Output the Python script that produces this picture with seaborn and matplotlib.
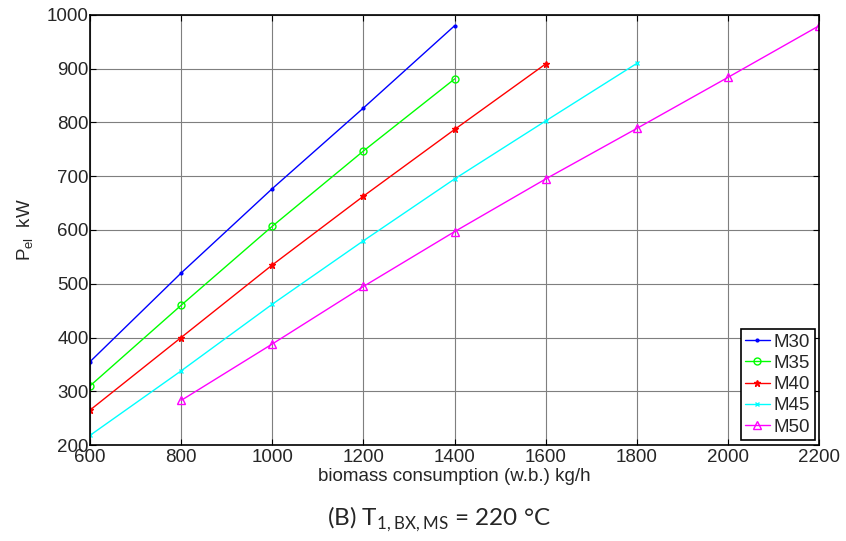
import matplotlib
matplotlib.use("Agg")
import matplotlib.pyplot as plt
import seaborn as sns
import pandas as pd

# data
x_m30 = [600, 800, 1000, 1200, 1400]
y_m30 = [355, 520, 677, 827, 980]
x_m35 = [600, 800, 1000, 1200, 1400]
y_m35 = [310, 460, 607, 747, 881]
x_m40 = [600, 800, 1000, 1200, 1400, 1600]
y_m40 = [265, 400, 535, 663, 787, 909]
x_m45 = [600, 800, 1000, 1200, 1400, 1600, 1800]
y_m45 = [218, 338, 462, 580, 695, 803, 910]
x_m50 = [800, 1000, 1200, 1400, 1600, 1800, 2000, 2200]
y_m50 = [283, 388, 495, 597, 695, 789, 884, 980]
series_names = ["M30", "M35", "M40", "M45", "M50"]
x_ticks = [600, 800, 1000, 1200, 1400, 1600, 1800, 2000, 2200]
y_ticks = [200, 300, 400, 500, 600, 700, 800, 900, 1000]

sns.set_style("white")
plt.rcParams['font.family'] = ['Liberation Sans', 'DejaVu Sans']

fig = plt.figure(figsize=(8.46, 5.41), dpi=100)
ax = fig.add_axes([0.1064, 0.1774, 0.862, 0.795])

styles = {
    "M30": dict(color="#0000ff", marker=".", ms=4, mfc="#0000ff"),
    "M35": dict(color="#00ff00", marker="o", ms=5, mfc="none"),
    "M40": dict(color="#ff0000", marker="*", ms=5, mfc="#ff0000"),
    "M45": dict(color="#00ffff", marker="x", ms=3.5, mfc="#00ffff"),
    "M50": dict(color="#ff00ff", marker="^", ms=6, mfc="none"),
}
data = {"M30": (x_m30, y_m30), "M35": (x_m35, y_m35), "M40": (x_m40, y_m40),
        "M45": (x_m45, y_m45), "M50": (x_m50, y_m50)}

for name in series_names:
    xs, ys = data[name]
    st = styles[name]
    df = pd.DataFrame({"x": xs, "y": ys})
    sns.lineplot(data=df, x="x", y="y", ax=ax, color=st["color"], marker=st["marker"],
                 markersize=st["ms"], markerfacecolor=st["mfc"], markeredgecolor=st["color"],
                 markeredgewidth=1, linewidth=1, label=name)

ax.set_xlim(600, 2200)
ax.set_ylim(200, 1000)
ax.set_xticks(x_ticks)
ax.set_yticks(y_ticks)
ax.grid(True, color="#7f7f7f", linewidth=0.8)
ax.tick_params(direction="in", length=4, labelsize=13.5, top=True, right=True,
               bottom=True, left=True, color="black", pad=1)
ax.tick_params(axis="x", pad=3)
for s in ax.spines.values():
    s.set_color("black")
    s.set_linewidth(1.2)

ax.set_xlabel("biomass consumption (w.b.) kg/h", fontsize=13.5, labelpad=1)
ax.set_ylabel(r"P$_{\mathregular{el}}$  kW", fontsize=13.5, labelpad=8)

leg = ax.legend(loc="lower right", fontsize=13.5, frameon=True, fancybox=False,
                edgecolor="black", borderaxespad=0.25, handlelength=1.3,
                handletextpad=0.2, labelspacing=0.22, borderpad=0.25)
leg.get_frame().set_linewidth(1.2)
leg.get_frame().set_alpha(1)

fig.text(0.519, 0.039, r"(B) T$_{\mathregular{1,BX,MS}}$ = 220 °C", ha="center", va="center",
         fontsize=17.5, family=["Lato", "DejaVu Sans"])

fig.savefig("out.png", dpi=100)
